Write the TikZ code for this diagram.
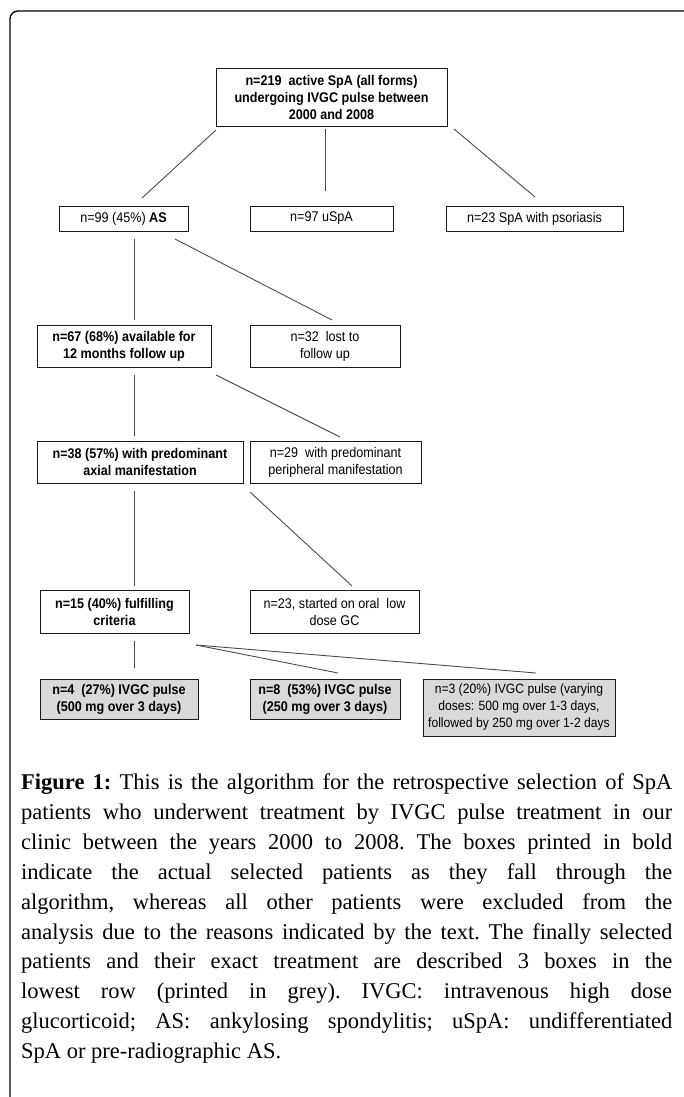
\documentclass[tikz,border=0pt]{standalone}
\usepackage{fontspec}
\setmainfont{Liberation Serif}
\newfontfamily\boxfont{Liberation Sans}[FakeStretch=0.9]
\usepackage{tikz}
\usetikzlibrary{positioning}
\tikzstyle{box}=[rectangle,draw=black!90,line width=0.9pt,align=center,inner sep=0pt,font=\boxfont\fontsize{14}{17}\selectfont]
\tikzstyle{boldbox}=[box,font=\boxfont\bfseries\fontsize{14}{17}\selectfont]
\tikzstyle{greybox}=[boldbox,fill=black!15]
\tikzstyle{undirectededge}=[draw,black!70,line width=0.9pt]
\tikzstyle{frame}=[draw,line width=1.3pt,rounded corners=8pt]

\begin{document}
\begin{tikzpicture}[x=1pt,y=-1pt]
 \useasboundingbox (0,0) rectangle (683,1097);
 \draw[frame] (10,1110) -- (10,11) -- (700,11);

 %Top
 \node[boldbox,minimum width=231,minimum height=58] (top) at (331.5,97)
   {n=219~ active SpA (all forms)\\undergoing IVGC pulse between\\2000 and 2008};

 %Plain boxes
 \foreach \x/\y/\w/\h/\name/\label in {
   123.5/218.5/129/25/as/{n=99 (45\%) \textbf{AS}},
   321.5/218.5/143/25/uspa/{n=97 uSpA},
   534.5/218.5/177/25/psor/{n=23 SpA with psoriasis},
   325/346/150/42/lost/{n=32~ lost to\\follow up},
   335.5/462/171/42/periph/{n=29~ with predominant\\peripheral manifestation},
   334.5/611.5/169/43/oral/{n=23, started on oral~ low\\dose GC}}
   \node[box,minimum width=\w,minimum height=\h] (\name) at (\x,\y) {\label};

 %Bold boxes
 \foreach \x/\y/\w/\h/\name/\label in {
   124/346/174/42/avail/{n=67 (68\%) available for\\12 months follow up},
   140/462/206/42/axial/{n=38 (57\%) with predominant\\axial manifestation},
   114.5/611.5/149/43/crit/{n=15 (40\%) fulfilling\\criteria}}
   \node[boldbox,minimum width=\w,minimum height=\h] (\name) at (\x,\y) {\label};

 %Grey boxes
 \foreach \x/\y/\w/\h/\name/\label in {
   119/699/158/40/pulsea/{n=4~ (27\%) IVGC pulse\\(500 mg over 3 days)},
   325/699/150/40/pulseb/{n=8~ (53\%) IVGC pulse\\(250 mg over 3 days)}}
   \node[greybox,minimum width=\w,minimum height=\h] (\name) at (\x,\y) {\label};
 \node[greybox,font=\boxfont\fontsize{13.5}{17}\selectfont,minimum width=192,minimum height=57] (pulsec) at (519,707.5)
   {n=3 (20\%) IVGC pulse (varying\\doses: 500 mg over 1-3 days,\\followed by 250 mg over 1-2 days};

 %Line ends
 \foreach \x/\y/\name in {216/130/t1, 142/198/t2, 325/129/t3, 325/191/t4, 454/129/t5, 535/197/t6,
   134/239/a1, 134/320/a2, 175/239/a3, 332/320/a4,
   134/375/b1, 134/436/b2, 216/375/b3, 340/437/b4,
   134/491/c1, 134/586/c2, 250/492/c3, 352/586/c4,
   134/641/d1, 134/668/d2, 196/645/d3, 338/673/d4, 536/673/d5}
   \coordinate (\name) at (\x,\y);

 \foreach \source/\dest in {t1/t2, t3/t4, t5/t6, a1/a2, a3/a4, b1/b2, b3/b4,
   c1/c2, c3/c4, d1/d2, d3/d4, d3/d5}
   \path[undirectededge] (\source) -- (\dest);

 %Caption
 \node[anchor=north west,inner sep=0pt,text width=651pt,align=justify,
   font=\fontsize{22.5}{29.9}\selectfont] (caption) at (21,773.5)
   {\tolerance=10000\hyphenpenalty=10000\frenchspacing
   \textbf{Figure 1:} This is the algorithm for the retrospective selection of SpA\linebreak
   patients who underwent treatment by IVGC pulse treatment in our\linebreak
   clinic between the years 2000 to 2008. The boxes printed in bold\linebreak
   indicate the actual selected patients as they fall through the\linebreak
   algorithm, whereas all other patients were excluded from the\linebreak
   analysis due to the reasons indicated by the text. The finally selected\linebreak
   patients and their exact treatment are described 3 boxes in the\linebreak
   lowest row (printed in grey). IVGC: intravenous high dose\linebreak
   glucorticoid; AS: ankylosing spondylitis; uSpA: undifferentiated\linebreak
   SpA or pre-radiographic AS.};
\end{tikzpicture}
\end{document}
